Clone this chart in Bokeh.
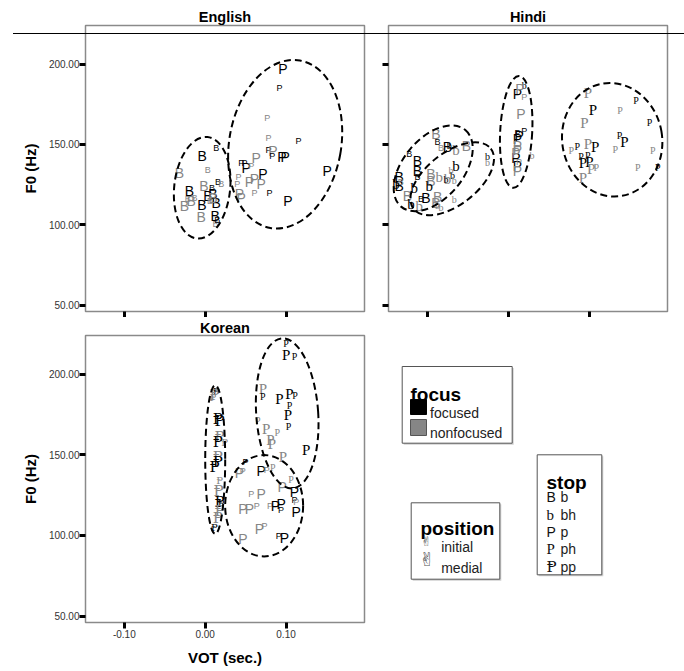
import pandas as pd
from bokeh.plotting import figure
from bokeh.layouts import row, column
from bokeh.models import ColumnDataSource, Range1d, FixedTicker, NumeralTickFormatter, InlineStyleSheet
from bokeh.core.properties import value
from bokeh.embed import file_html
from bokeh.resources import INLINE

# ---------------- data (VOT in sec., F0 in Hz) ----------------
# focus codes: f = focused, n = nonfocused ; position codes: i = initial, m = medial
ENG_B_VOT = [-0.0037, 0.0136, -0.0318, 0.0033, -0.0016, 0.0157, 0.0198, 0.0083, 0.0095, -0.0194, -0.0256, -0.0173,
             -0.0132, -0.0041, 0.0033, 0.0136, -0.0049, 0.0124, 0.0128, 0.0095, -0.0215, 0.0060, 0.0150]
ENG_B_F0 = [142.9, 147.7, 131.9, 134.0, 124.2, 126.9, 125.3, 122.8, 119.0, 121.1, 111.8, 114.9,
            116.9, 112.4, 118.0, 113.8, 105.1, 105.5, 100.4, 116.9, 116.0, 115.0, 103.0]
ENG_B_FOCUS = list("ffnnnfnfffnnnfffnfnnnnf")
ENG_B_POS = list("mimimiiimmmmimmmmmimiii")

ENG_P_VOT = [0.0960, 0.0918, 0.0766, 0.0782, 0.1153, 0.0782, 0.0837, 0.0828, 0.0948, 0.0989, 0.0630, 0.0445,
             0.0486, 0.0507, 0.0569, 0.0609, 0.0548, 0.0713, 0.0692, 0.0412, 0.0396, 0.0424, 0.0445, 0.0609,
             0.0795, 0.1022, 0.1508]
ENG_P_F0 = [196.9, 185.4, 166.4, 153.9, 152.2, 146.4, 146.0, 142.9, 142.3, 142.3, 141.5, 138.4,
            138.4, 135.6, 136.7, 128.4, 126.3, 131.5, 125.3, 129.4, 125.3, 119.0, 116.9, 120.0,
            120.0, 114.9, 133.6]
ENG_P_FOCUS = list("ffnnffnfffnfffnnnfnnnnnnfff")
ENG_P_POS = list("miiiiimimmmiimimmmmiimmiimm")

HIN_B_VOT = [-0.0894, -0.0873, -0.0832, -0.0750, -0.0515, -0.1224, -0.1121, -0.1121, -0.1121, -0.0956, -0.0956,
             -0.1347, -0.1347, -0.1245, -0.1017, -0.0873, -0.0894, -0.1079, -0.1327]
HIN_B_F0 = [156.4, 151.8, 147.7, 148.5, 149.1, 144.0, 139.8, 133.6, 129.4, 131.5, 127.3,
            129.4, 124.2, 118.0, 116.9, 117.4, 113.8, 115.9, 126.3]
HIN_B_FOCUS = list("nfnfnffffnnffnfnnfn")
HIN_B_POS = list("miimmimmimmmmmmmmii")

HIN_BH_VOT = [-0.0646, -0.0708, -0.0688, -0.0750, -0.0853, -0.0770, -0.0667, -0.0976, -0.1162, -0.1203, -0.1100,
              -0.0873, -0.0832, -0.0256, -0.0256, -0.0667, -0.0729, -0.0646, -0.1388, 0.0198, 0.0293]
HIN_BH_F0 = [136.7, 133.6, 130.4, 128.4, 129.4, 127.9, 127.3, 124.2, 122.8, 112.8, 111.8,
             111.8, 110.7, 142.3, 138.7, 115.9, 149.1, 146.4, 125.3, 186.5, 142.9]
HIN_BH_FOCUS = list("fnfnnfnfffnnnfnnfnffn")
HIN_BH_POS = list("miimmiimmmmiiiiiimmii")

HIN_P_VOT = [0.0115, 0.0198, 0.0144, 0.0157, 0.0115, 0.0198, 0.0115, 0.0115, 0.0115, 0.0095, 0.0115, 0.0115,
             0.0135, 0.0095, 0.0135]
HIN_P_F0 = [181.3, 179.2, 184.4, 168.9, 157.4, 158.5, 153.3, 149.1, 146.4, 141.5, 136.7, 133.6,
            155.0, 144.5, 139.0]
HIN_P_FOCUS = list("fnnnfffnnffnfnn")
HIN_P_POS = list("mimmiimmmmmmmmi")

HIN_PH_VOT = [0.0985, 0.1047, 0.0943, 0.1384, 0.1582, 0.1747, 0.0779, 0.0853, 0.0985, 0.1075, 0.1376, 0.1438,
              0.1323, 0.1789, 0.0902, 0.0985, 0.0923, 0.1005, 0.1088, 0.1026, 0.1603, 0.1850, 0.0923]
HIN_PH_F0 = [182.3, 171.4, 163.6, 171.4, 177.1, 163.6, 146.0, 148.5, 150.2, 148.5, 155.4, 151.2,
             147.1, 146.0, 142.3, 142.9, 138.7, 139.3, 135.6, 134.6, 135.6, 135.6, 129.0]
HIN_PH_FOCUS = list("nfnnffnfnfffnnffffnnnfn")
HIN_PH_POS = list("mmmiiiiimmimiiiimmimiim")

KOR_PP_VOT = [0.0136, 0.0095, 0.0115, 0.0157, 0.0177, 0.0177, 0.0157, 0.0239, 0.0157, 0.0157, 0.0115, 0.0177,
              0.0165, 0.0177, 0.0198, 0.0177, 0.0157, 0.0115]
KOR_PP_F0 = [189.0, 185.5, 187.0, 172.4, 171.0, 161.0, 157.9, 157.9, 148.5, 145.4, 142.3, 134.0,
             127.8, 120.5, 119.5, 115.3, 111.1, 104.9]
KOR_PP_FOCUS = list("fnnffnfnnffnnffnnf")
KOR_PP_POS = list("iimmmmmimmmimmimmi")

KOR_PH_VOT = [0.1001, 0.1001, 0.1104, 0.0713, 0.0713, 0.0918, 0.1042, 0.1112, 0.1042, 0.1022, 0.1030, 0.0651,
              0.0754, 0.0890, 0.0808, 0.0824, 0.1248, 0.0960, 0.0837, 0.1063]
KOR_PH_F0 = [219.1, 211.8, 210.8, 191.1, 185.9, 184.8, 188.0, 186.9, 180.7, 174.5, 167.6, 171.4,
             166.2, 164.1, 158.9, 156.8, 152.7, 148.5, 142.3, 135.0]
KOR_PH_FOCUS = list("fffnfffffffnnnnnfnnn")
KOR_PH_POS = list("imimimmiimiimimmmmii")

KOR_P_VOT = [0.0498, 0.0424, 0.0466, 0.0692, 0.0760, 0.0952, 0.1104, 0.1104, 0.1125, 0.0569, 0.0692, 0.0466,
             0.0548, 0.0639, 0.0803, 0.0869, 0.0939, 0.0939, 0.0671, 0.0733, 0.0466, 0.0911, 0.0980, 0.1125]
KOR_P_F0 = [145.4, 138.5, 140.2, 140.2, 140.5, 130.3, 126.7, 121.9, 114.3, 125.7, 125.7, 116.4,
            116.4, 118.4, 118.4, 118.4, 119.5, 115.7, 103.9, 106.0, 97.7, 99.8, 98.3, 120.5]
KOR_P_FOCUS = list("fnnfnnfffnnnnnnfffnnnffn")
KOR_P_POS = list("imimimmimimmmiimmimimimi")

# group ellipses (centre VOT, centre F0, width in sec., height in Hz, angle in degrees)
ENG_ELL_X = [-0.0037, 0.0989]
ENG_ELL_Y = [123.0, 150.1]
ENG_ELL_W = [0.0692, 0.1384]
ENG_ELL_H = [63.5, 105.9]
ENG_ELL_A = [-6, -10]

HIN_ELL_X = [-0.0927, -0.0692, 0.0099, 0.1286]
HIN_ELL_Y = [135.1, 128.6, 157.8, 152.9]
HIN_ELL_W = [0.1236, 0.1211, 0.0396, 0.1236]
HIN_ELL_H = [37.4, 32.4, 69.7, 71.0]
HIN_ELL_A = [50, 38, -3, 10]

KOR_ELL_X = [0.0124, 0.1014, 0.0729]
KOR_ELL_Y = [147.1, 175.7, 118.4]
KOR_ELL_W = [0.0247, 0.0766, 0.0964]
KOR_ELL_H = [92.2, 93.4, 62.9]
KOR_ELL_A = [0, 4, 0]

X_TICKS = [-0.10, 0.00, 0.10]
Y_TICKS = [50, 100, 150, 200]
X_MIN, X_MAX = -0.148, 0.197
Y_MIN, Y_MAX = 46.0, 224.0

STOPS = ["b", "bh", "p", "ph", "pp"]
STOP_SYMBOLS = ["B", "b", "P", "P", "\u2C63"]
STOP_FONTS = ["Liberation Sans", "Liberation Serif", "Liberation Sans", "Liberation Serif", "DejaVu Serif"]
FOCUS_LABELS = ["focused", "nonfocused"]
FOCUS_COLORS = ["#000000", "#868686"]
POSITION_LABELS = ["initial", "medial"]
POSITION_SYMBOL = "\u270C"

SANS = "Liberation Sans"
SIZE_SMALL, SIZE_LARGE = 9, 14


def group(stop, vot, f0, focus, pos):
    return pd.DataFrame(dict(vot=vot, f0=f0, focus=focus, pos=pos, stop=stop))


def build_source(frames):
    df = pd.concat(frames, ignore_index=True)
    idx = df["stop"].map({s: i for i, s in enumerate(STOPS)})
    df["sym"] = idx.map(lambda i: STOP_SYMBOLS[i])
    df["font"] = idx.map(lambda i: STOP_FONTS[i])
    serif = df["font"] != SANS
    base = df["pos"].map({"i": SIZE_SMALL, "m": SIZE_LARGE}) + serif.astype(int)
    df["fsize"] = base.astype(str) + "px"
    df["color"] = df["focus"].map({"f": FOCUS_COLORS[0], "n": FOCUS_COLORS[1]})
    return ColumnDataSource(df)


def panel(title, src, ell, frame_h, left, right, top, bottom, xlabels, ylabels, xlabel=None, ylabel=None,
          title_standoff=2):
    p = figure(title=title, frame_width=279, frame_height=frame_h,
               x_range=Range1d(X_MIN, X_MAX), y_range=Range1d(Y_MIN, Y_MAX),
               output_backend="svg", toolbar_location=None,
               min_border_left=left, min_border_right=right, min_border_top=top, min_border_bottom=bottom)
    p.grid.visible = False
    p.outline_line_color = "#8a8a8a"
    p.outline_line_width = 1.5
    t = p.title
    t.align = "center"
    t.text_font = SANS
    t.text_font_size = "14.5px"
    t.text_font_style = "bold"
    t.text_color = "black"
    t.standoff = title_standoff
    for ax in (p.xaxis[0], p.yaxis[0]):
        ax.axis_line_color = None
        ax.major_tick_line_color = "black"
        ax.major_tick_line_width = 3
        ax.major_tick_out = 6
        ax.major_tick_in = 0
        ax.minor_tick_line_color = None
        ax.major_label_text_font = SANS
        ax.major_label_text_font_size = "10px"
        ax.major_label_text_color = "#333333"
        ax.axis_label_text_font = SANS
        ax.axis_label_text_font_size = "15px"
        ax.axis_label_text_font_style = "bold"
        ax.axis_label_text_color = "black"
    p.xaxis.ticker = FixedTicker(ticks=X_TICKS)
    p.yaxis.ticker = FixedTicker(ticks=Y_TICKS)
    p.xaxis.formatter = NumeralTickFormatter(format="0.00")
    p.yaxis.formatter = NumeralTickFormatter(format="0.00")
    p.yaxis.major_label_standoff = 0
    p.xaxis.major_label_standoff = 1
    if not xlabels:
        p.xaxis.major_label_overrides = {v: "" for v in X_TICKS}
        p.xaxis.major_label_text_font_size = "0px"
        p.xaxis.major_label_standoff = 0
    if not ylabels:
        p.yaxis.major_label_overrides = {v: "" for v in Y_TICKS}
        p.yaxis.major_label_text_font_size = "0px"
        p.yaxis.major_label_standoff = 0
    if xlabel:
        p.xaxis.axis_label = xlabel
        p.xaxis.axis_label_standoff = 8
    if ylabel:
        p.yaxis.axis_label = ylabel
        p.yaxis.axis_label_standoff = 7
    p.text(x="vot", y="f0", text="sym", text_font="font", text_font_size="fsize", text_color="color",
           text_align="center", text_baseline="middle", source=src)
    ex, ey, ew, eh, ea = ell
    p.ellipse(x=ex, y=ey, width=ew, height=eh, angle=ea, angle_units="deg",
              fill_color=None, line_color="black", line_width=2, line_dash="7 4")
    return p


eng_src = build_source([group("b", ENG_B_VOT, ENG_B_F0, ENG_B_FOCUS, ENG_B_POS),
                        group("p", ENG_P_VOT, ENG_P_F0, ENG_P_FOCUS, ENG_P_POS)])
hin_src = build_source([group("b", HIN_B_VOT, HIN_B_F0, HIN_B_FOCUS, HIN_B_POS),
                        group("bh", HIN_BH_VOT, HIN_BH_F0, HIN_BH_FOCUS, HIN_BH_POS),
                        group("p", HIN_P_VOT, HIN_P_F0, HIN_P_FOCUS, HIN_P_POS),
                        group("ph", HIN_PH_VOT, HIN_PH_F0, HIN_PH_FOCUS, HIN_PH_POS)])
kor_src = build_source([group("pp", KOR_PP_VOT, KOR_PP_F0, KOR_PP_FOCUS, KOR_PP_POS),
                        group("ph", KOR_PH_VOT, KOR_PH_F0, KOR_PH_FOCUS, KOR_PH_POS),
                        group("p", KOR_P_VOT, KOR_P_F0, KOR_P_FOCUS, KOR_P_POS)])

eng = panel("English", eng_src, (ENG_ELL_X, ENG_ELL_Y, ENG_ELL_W, ENG_ELL_H, ENG_ELL_A),
            286, 85, 11, 25, 6, False, True, ylabel="F0 (Hz)")
hin = panel("Hindi", hin_src, (HIN_ELL_X, HIN_ELL_Y, HIN_ELL_W, HIN_ELL_H, HIN_ELL_A),
            286, 13, 17, 25, 6, False, False)
kor = panel("Korean", kor_src, (KOR_ELL_X, KOR_ELL_Y, KOR_ELL_W, KOR_ELL_H, KOR_ELL_A),
            287, 85, 11, 14, 46, True, True, xlabel="VOT (sec.)", ylabel="F0 (Hz)", title_standoff=0)

# ---------------- legends (page-pixel layout space, frame aligned with the Korean frame) ----------------
leg = figure(frame_width=279, frame_height=287, x_range=Range1d(388, 667), y_range=Range1d(622, 335),
             min_border_left=13, min_border_right=17, min_border_top=14, min_border_bottom=46,
             output_backend="svg", toolbar_location=None, x_axis_type=None, y_axis_type=None)
leg.grid.visible = False
leg.outline_line_color = None

BOX_L = [401.7, 410.7, 536.7]
BOX_R = [511.7, 499.3, 601.3]
BOX_T = [366.0, 502.3, 454.3]
BOX_B = [442.7, 578.7, 574.3]
leg.quad(left=[v + 1.5 for v in BOX_L], right=[v + 1.5 for v in BOX_R], top=[v + 1.5 for v in BOX_T],
         bottom=[v + 1.5 for v in BOX_B], fill_color="#d0d0d0", line_color=None)
leg.quad(left=BOX_L, right=BOX_R, top=BOX_T, bottom=BOX_B, fill_color="white", line_color="#555555", line_width=1)

TITLE_TXT = ["focus", "position", "stop"]
TITLE_X = [410.0, 420.0, 546.0]
TITLE_Y = [394.0, 528.0, 481.5]
leg.text(x=TITLE_X, y=TITLE_Y, text=TITLE_TXT, text_font=value(SANS), text_font_size="19px",
         text_font_style="bold", text_color="black", text_baseline="alphabetic", text_align="left")

# focus swatches
leg.quad(left=[410, 410], right=[426, 426], top=[399, 419], bottom=[414, 435],
         fill_color=FOCUS_COLORS, line_color=["#000000", "#555555"], line_width=1)
leg.text(x=[429.5, 429.5], y=[412.5, 432.5], text=FOCUS_LABELS, text_font=value(SANS), text_font_size="14px",
         text_color="#222222", text_baseline="alphabetic", text_align="left")

# position symbols (small hand = initial, large hand = medial)
leg.text(x=[426.0], y=[541.0], text=[POSITION_SYMBOL], text_font=value("DejaVu Sans"),
         text_font_size="13px", text_color="#555555", text_baseline="alphabetic", text_align="center")
leg.text(x=[426.5], y=[558.5], text=[POSITION_SYMBOL], text_font=value("DejaVu Sans"),
         text_font_size="19px", text_color="#555555", text_baseline="alphabetic", text_align="center")
leg.text(x=[440.7, 440.7], y=[546.0, 567.0], text=POSITION_LABELS, text_font=value(SANS), text_font_size="14px",
         text_color="#222222", text_baseline="alphabetic", text_align="left")

# stop symbols
STOP_ROW_Y = [496.5, 514.0, 531.5, 548.5, 566.0]
leg_stop = ColumnDataSource(dict(x=[546.0] * 5, y=STOP_ROW_Y, sym=STOP_SYMBOLS, font=STOP_FONTS,
                                 size=["14px", "15px", "14px", "15px", "15px"]))
leg.text(x="x", y="y", text="sym", text_font="font", text_font_size="size", text_color="#111111",
         text_baseline="alphabetic", text_align="left", source=leg_stop)
leg.text(x=[560.0] * 5, y=STOP_ROW_Y, text=STOPS, text_font=value(SANS), text_font_size="14px",
         text_color="#222222", text_baseline="alphabetic", text_align="left")

# thin horizontal rule that crosses the top of both upper panels
rule = InlineStyleSheet(css=":host { position: relative; } :host::after { content: ''; position: absolute; "
                            "left: 13px; top: 33px; width: 671px; height: 1px; background: #000; "
                            "z-index: 10; pointer-events: none; }")

layout = column(row(eng, hin), row(kor, leg), stylesheets=[rule])
open("out.html", "w").write(file_html(layout, INLINE))
